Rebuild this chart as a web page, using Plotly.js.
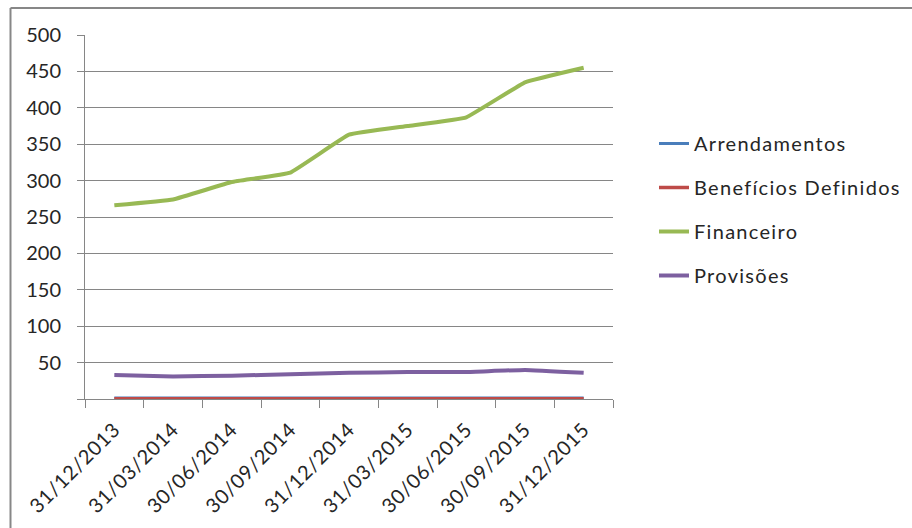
<!DOCTYPE html>
<html>
<head>
<meta charset="utf-8">
<script src="https://cdn.plot.ly/plotly-3.0.1.min.js"></script>
<style>
  html, body { margin: 0; padding: 0; background: #ffffff; }
  #chart { width: 912px; height: 528px; }
  /* slightly looser tracking on legend and date labels */
  #chart .legendtext { letter-spacing: 1.3px; }
  #chart .xtick text { letter-spacing: 0.7px; }
  /* the wider legend text must not be cut by the legend box */
  #chart .legend .scrollbox { clip-path: none !important; }
</style>
</head>
<body>
<div id="chart"></div>
<script>
// Quarter-end dates (categories)
const datas = ["31/12/2013", "31/03/2014", "30/06/2014", "30/09/2014", "31/12/2014",
               "31/03/2015", "30/06/2015", "30/09/2015", "31/12/2015"];

// Series values
const arrendamentos = [1.5, 1.5, 1.5, 1.5, 1.5, 1.5, 1.5, 1.5, 1.5];
const beneficiosDefinidos = [0.2, 0.2, 0.2, 0.2, 0.2, 0.2, 0.2, 0.2, 0.2];
const financeiro = [266, 274, 298, 311, 363, 375, 387, 435, 455];
const provisoes = [33, 31, 32, 34, 36, 37, 37, 40, 36];

// Y axis ticks (zero left unlabelled)
const yTickVals = [0, 50, 100, 150, 200, 250, 300, 350, 400, 450, 500];
const yTickText = ["", "50", "100", "150", "200", "250", "300", "350", "400", "450", "500"];

const FONT = "Lato, 'Open Sans', sans-serif";
const AXIS_GREY = "#868686";

function serie(name, values, color, width) {
  return {
    type: "scatter",
    mode: "lines",
    name: name,
    legendgroup: name,
    x: datas,
    y: values,
    line: { color: color, width: width, shape: "spline", smoothing: 0.25 },
    hoverinfo: "x+y+name"
  };
}

const traces = [
  serie("Arrendamentos", arrendamentos, "#4A7EBB", 3),
  serie("Benefícios Definidos", beneficiosDefinidos, "#BE4B48", 3.5),
  serie("Financeiro", financeiro, "#98B954", 4),
  serie("Provisões", provisoes, "#7D60A0", 4)
];

// Plot area: x 85..613, y 35..399
const L = 85, R = 299, T = 35, B = 129;
const plotW = 912 - L - R, plotH = 528 - T - B;
const px = X => (X - L) / plotW;
const py = Y => (528 - B - Y) / plotH;

const layout = {
  width: 912,
  height: 528,
  margin: { l: L, r: R, t: T, b: B },
  paper_bgcolor: "#ffffff",
  plot_bgcolor: "#ffffff",
  font: { family: FONT, size: 20, color: "#262626" },
  showlegend: true,
  legend: {
    x: px(654), xanchor: "left",
    y: py(124), yanchor: "top",
    traceorder: "grouped",
    tracegroupgap: 15,
    font: { family: FONT, size: 20, color: "#262626" },
    bgcolor: "rgba(0,0,0,0)"
  },
  xaxis: {
    type: "category",
    range: [-0.5, 8.5],
    tickangle: -45,
    ticks: "outside",
    tickson: "boundaries",
    ticklen: 8,
    tickcolor: AXIS_GREY,
    tickwidth: 1,
    ticklabelstandoff: 10,
    showline: true,
    linecolor: AXIS_GREY,
    linewidth: 1,
    showgrid: false,
    zeroline: false,
    tickfont: { family: FONT, size: 20, color: "#262626" },
    fixedrange: true
  },
  yaxis: {
    range: [0, 500],
    tickmode: "array",
    tickvals: yTickVals,
    ticktext: yTickText,
    ticks: "outside",
    ticklen: 7,
    tickcolor: AXIS_GREY,
    tickwidth: 1,
    ticklabelstandoff: 12,
    showline: true,
    linecolor: AXIS_GREY,
    linewidth: 1,
    showgrid: true,
    gridcolor: AXIS_GREY,
    gridwidth: 1,
    zeroline: false,
    tickfont: { family: FONT, size: 20, color: "#262626" },
    fixedrange: true
  },
  shapes: [
    // chart frame: left and top edges
    { type: "line", xref: "paper", yref: "paper",
      x0: px(10.5), x1: px(10.5), y0: py(8), y1: py(540),
      line: { color: "#878787", width: 2 } },
    { type: "line", xref: "paper", yref: "paper",
      x0: px(10.5), x1: px(920), y0: py(8), y1: py(8),
      line: { color: "#878787", width: 2 } }
  ]
};

Plotly.newPlot("chart", traces, layout, { displayModeBar: false, staticPlot: true });
</script>
</body>
</html>
